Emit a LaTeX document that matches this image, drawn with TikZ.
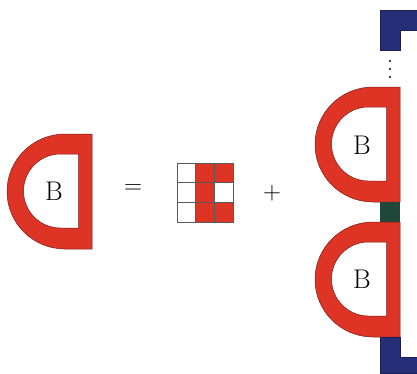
\documentclass[tikz,border=0pt]{standalone}
\usepackage{tikz}
\definecolor{dred}{RGB}{222,52,38}
\definecolor{dedge}{RGB}{120,30,25}
\definecolor{dblue}{RGB}{38,46,120}
\definecolor{dgreen}{RGB}{32,72,58}
\definecolor{gline}{RGB}{90,90,90}
\tikzset{
  bigtxt/.style={inner sep=0pt, font=\fontsize{27}{30}\selectfont},
  dring/.pic={
    \fill[dred, draw=dedge, line width=0.5pt, even odd rule]
      (0,0) -- (-27,0) arc[start angle=270,end angle=90,x radius=58,y radius=57.5] -- (0,115) -- cycle
      (-13.5,20) -- (-31.5,20) arc[start angle=270,end angle=90,x radius=37,y radius=37] -- (-13.5,94) -- cycle;
  },
  redcell/.style={fill=dred, draw=gline, line width=0.6pt},
  whitecell/.style={fill=white, draw=gline, line width=0.6pt},
  blueblock/.style={fill=dblue, draw=dblue!70!black, line width=0.4pt},
}
\begin{document}
\begin{tikzpicture}[x=1pt,y=-1pt]
\useasboundingbox (0,0) rectangle (417,373);
% left D
\pic at (92,134) {dring};
\node[bigtxt] (bL) at (54,191) {B};
% equals
\node[bigtxt] (eq) at (133,189) {$=$};
% grid
\foreach \c/\r/\s in {0/0/whitecell,0/1/whitecell,0/2/whitecell,
                      1/0/redcell,1/1/redcell,1/2/redcell,
                      2/0/redcell,2/1/whitecell,2/2/redcell}{
  \path[\s] ({177+18.7*\c},{163+19.7*\r}) rectangle ++(18.7,19.7);
}
% plus
\node[bigtxt] (pl) at (272,193) {$+$};
% right column
\path[blueblock] (380,10) -- (417,10) -- (417,30) -- (400,30) -- (400,50) -- (380,50) -- cycle;
\foreach \yy in {61,69,77}{\fill (390,\yy) circle (1.2);}
\pic at (400,87) {dring};
\node[bigtxt] (bU) at (362,145) {B};
\fill[dgreen] (380,202) rectangle (400,222);
\pic at (400,222) {dring};
\node[bigtxt] (bD) at (362,279) {B};
\path[blueblock] (380,337) -- (400,337) -- (400,357) -- (417,357) -- (417,373) -- (380,373) -- cycle;
\end{tikzpicture}
\end{document}
